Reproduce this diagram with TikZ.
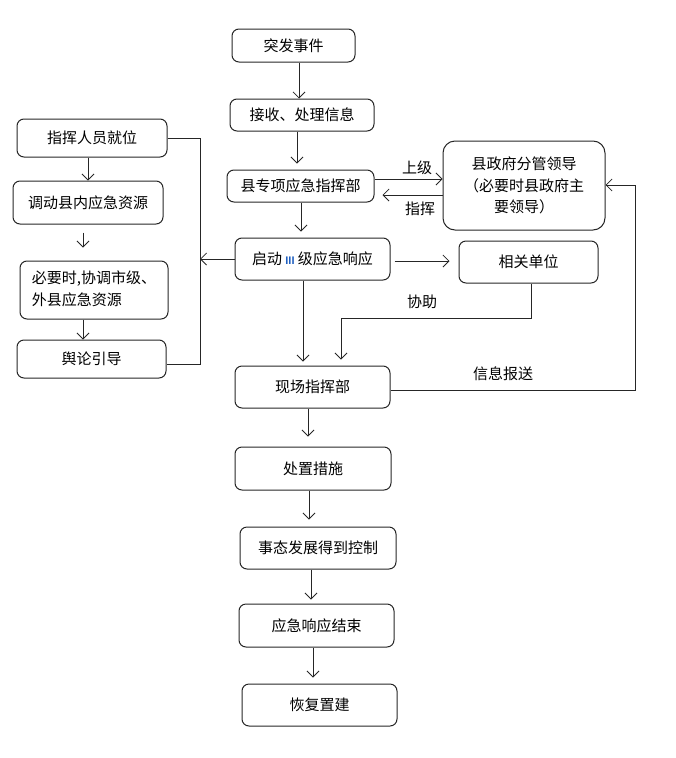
\documentclass[tikz,border=0pt]{standalone}
\usepackage{fontspec}
\newfontfamily\cjk{Noto Sans CJK SC}
\newfontfamily\latinsans{Liberation Sans}
\usetikzlibrary{arrows.meta}
\definecolor{iiiblue}{HTML}{1F5FBF}
\begin{document}
\begin{tikzpicture}[x=1pt,y=-1pt,
  box/.style={draw=black!85, line width=1pt, rounded corners=7pt,
    font=\cjk\fontsize{15}{21.5}\selectfont, align=center, inner sep=0pt},
  lbl/.style={font=\cjk\fontsize{15}{18}\selectfont, inner sep=0pt},
  ln/.style={line width=0.8pt, draw=black!85},
  ar/.style={ln, -{Straight Barb[length=6pt,width=12pt]}}]
\useasboundingbox (0,0) rectangle (675,758);
% main column
\node[box, minimum width=123pt, minimum height=33pt] (n1) at (293.5,45.5) {突发事件};
\node[box, minimum width=144pt, minimum height=32pt] (n2) at (302,115) {接收、处理信息};
\node[box, minimum width=147pt, minimum height=32pt] (n3) at (300.5,186) {县专项应急指挥部};
\node[box, minimum width=155pt, minimum height=42pt] (n4) at (312.5,259) {启动 {\latinsans\bfseries\fontsize{11}{12}\selectfont\color{iiiblue}III} 级应急响应};
\node[box, minimum width=155pt, minimum height=42pt] (n5) at (312.5,387) {现场指挥部};
\node[box, minimum width=156pt, minimum height=43pt] (n6) at (313,468.5) {处置措施};
\node[box, minimum width=156pt, minimum height=42pt] (n7) at (318,548) {事态发展得到控制};
\node[box, minimum width=155pt, minimum height=43pt] (n8) at (316.5,625.5) {应急响应结束};
\node[box, minimum width=155pt, minimum height=42pt] (n9) at (319.5,705) {恢复置建};
% right column
\node[box, minimum width=162pt, minimum height=89pt, rounded corners=12pt] (gov) at (524,185.5) {县政府分管领导\\（必要时县政府主\\要领导）};
\node[box, minimum width=139pt, minimum height=42pt] (rel) at (528.5,262) {相关单位};
% left column
\node[box, minimum width=150pt, minimum height=38pt] (l1) at (92,138) {指挥人员就位};
\node[box, minimum width=150pt, minimum height=43pt] (l2) at (88,202.5) {调动县内应急资源};
\node[box, minimum width=148pt, minimum height=58pt] (l3) at (94,290) {\begin{tabular}{@{}l@{}}必要时,协调市级、\\外县应急资源\end{tabular}};
\node[box, minimum width=149pt, minimum height=38pt] (l4) at (91.5,359) {舆论引导};
% main arrows
\draw[ar] (n1.south -| 299,0) -- (n2.north -| 299,0);
\draw[ar, shorten >=6pt] (n2.south -| 297,0) -- (n3.north -| 297,0);
\draw[ar, shorten >=6pt] (n3.south -| 301,0) -- (n4.north -| 301,0);
\draw[ar, shorten >=4pt] (n4.south -| 303,0) -- (n5.north -| 303,0);
\draw[ar, shorten >=10pt] (n5.south -| 308,0) -- (n6.north -| 308,0);
\draw[ar, shorten >=7pt] (n6.south -| 309,0) -- (n7.north -| 309,0);
\draw[ar, shorten >=4pt] (n7.south -| 311,0) -- (n8.north -| 311,0);
\draw[ar, shorten >=6pt] (n8.south -| 313,0) -- (n9.north -| 313,0);
% command links
\draw[ar] (n3.east |- 0,179) -- (gov.west |- 0,179);
\node[lbl] (t1) at (417,168) {上级};
\draw[ar, shorten >=8pt] (gov.west |- 0,195) -- (n3.east |- 0,195);
\node[lbl] (t2) at (420,209) {指挥};
\draw[ar, shorten <=4pt, shorten >=9pt] (n4.east |- 0,261) -- (rel.west |- 0,261);
\draw[ar, shorten >=6pt] (rel.south -| 531,0) |- (341,318) -- (n5.north -| 341,0);
\node[lbl] (t3) at (422,302) {协助};
\coordinate (rb) at (635,390);
\draw[ar] (n5.east |- 0,390) -- (rb) |- (gov.east |- 0,185);
\node[lbl] (t4) at (503,374) {信息报送};
% left bus
\coordinate (bt) at (200,138);
\coordinate (bb) at (200,364);
\draw[ln] (l1.east) -- (bt) -- (bb) -- (l4.east |- bb);
\draw[ar] (n4.west) -- (n4.west -| bt);
\draw[ar] (l1.south -| 88,0) -- (l2.north -| 88,0);
\draw[ar, shorten <=8pt, shorten >=13pt] (l2.south -| 83,0) -- (l3.north -| 83,0);
\draw[ar] (l3.south -| 83,0) -- (l4.north -| 83,0);
\end{tikzpicture}
\end{document}
